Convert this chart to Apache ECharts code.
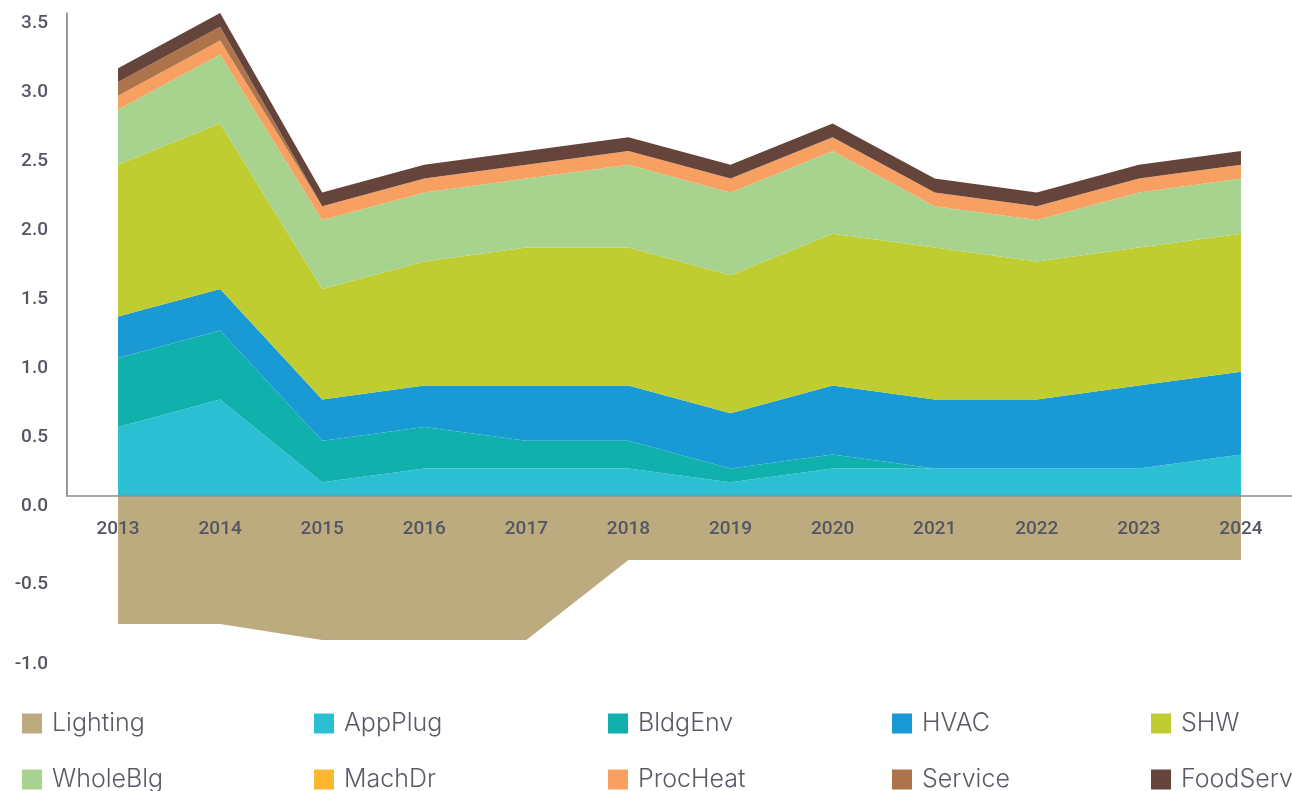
<!DOCTYPE html>
<html>
<head>
<meta charset="utf-8">
<title>Savings by end use</title>
<script src="https://cdn.jsdelivr.net/npm/echarts@6/dist/echarts.min.js"></script>
<style>
  html, body { margin: 0; padding: 0; background: #fff; }
  #chart { width: 1292px; height: 791px; }
</style>
</head>
<body>
<div id="chart"></div>
<script>
// x categories
var years = ['2013', '2014', '2015', '2016', '2017', '2018', '2019', '2020', '2021', '2022', '2023', '2024'];

// negative part (drawn in its own lower grid)
var lighting = [-0.75, -0.75, -0.85, -0.85, -0.85, -0.35, -0.35, -0.35, -0.35, -0.35, -0.35, -0.35];

// stacked positive parts, bottom to top
var appPlug  = [0.5, 0.7, 0.1, 0.2, 0.2, 0.2, 0.1, 0.2, 0.2, 0.2, 0.2, 0.3];
var bldgEnv  = [0.5, 0.5, 0.3, 0.3, 0.2, 0.2, 0.1, 0.1, 0, 0, 0, 0];
var hvac     = [0.3, 0.3, 0.3, 0.3, 0.4, 0.4, 0.4, 0.5, 0.5, 0.5, 0.6, 0.6];
var shw      = [1.1, 1.2, 0.8, 0.9, 1.0, 1.0, 1.0, 1.1, 1.1, 1.0, 1.0, 1.0];
var wholeBlg = [0.4, 0.5, 0.5, 0.5, 0.5, 0.6, 0.6, 0.6, 0.3, 0.3, 0.4, 0.4];
var machDr   = [0, 0, 0, 0, 0, 0, 0, 0, 0, 0, 0, 0];
var procHeat = [0.1, 0.1, 0.1, 0.1, 0.1, 0.1, 0.1, 0.1, 0.1, 0.1, 0.1, 0.1];
var service  = [0.1, 0.1, 0, 0, 0, 0, 0, 0, 0, 0, 0, 0];
var foodServ = [0.1, 0.1, 0.1, 0.1, 0.1, 0.1, 0.1, 0.1, 0.1, 0.1, 0.1, 0.1];

// y tick labels
var posTicks = { min: 0, max: 3.5, step: 0.5 };
var negTicks = { min: -1.0, step: 0.5 };

var colors = {
  Lighting: '#bdab80',
  AppPlug: '#2bbfd3',
  BldgEnv: '#10b0ad',
  HVAC: '#199ad5',
  SHW: '#c0cd30',
  WholeBlg: '#a8d38e',
  MachDr: '#fbb82e',
  ProcHeat: '#f7a061',
  Service: '#ad744b',
  FoodServ: '#65443b'
};

var axisFont = 'Roboto, sans-serif';
var labelColor = '#545662';

function stackArea(name, data) {
  return {
    name: name,
    type: 'line',
    stack: 'pos',
    xAxisIndex: 0,
    yAxisIndex: 0,
    data: data,
    symbol: 'none',
    lineStyle: { width: 0 },
    itemStyle: { color: colors[name] },
    areaStyle: { color: colors[name], opacity: 1 }
  };
}

// one legend per item so the two rows line up in columns
function legendItem(left, top, name) {
  return {
    left: left,
    top: top,
    padding: 0,
    itemWidth: 20,
    itemHeight: 20,
    icon: 'rect',
    selectedMode: false,
    data: [name],
    textStyle: {
      color: '#5a5b67',
      fontSize: 25,
      fontWeight: 300,
      fontFamily: 'Inter, "Noto Sans", sans-serif',
      padding: [0, 0, 0, 5]
    }
  };
}

var chart = echarts.init(document.getElementById('chart'));

var option = {
  animation: false,
  legend: [
    legendItem(22, 711, 'Lighting'),
    legendItem(314, 711, 'AppPlug'),
    legendItem(608, 711, 'BldgEnv'),
    legendItem(892, 711, 'HVAC'),
    legendItem(1151, 711, 'SHW'),
    legendItem(22, 767, 'WholeBlg'),
    legendItem(314, 767, 'MachDr'),
    legendItem(608, 767, 'ProcHeat'),
    legendItem(892, 767, 'Service'),
    legendItem(1151, 767, 'FoodServ')
  ],
  grid: [
    // positive part
    { left: 67, top: 13, width: 1234, height: 483 },
    // negative part, its zero sits a bit below the axis line
    { left: 67, top: 496, width: 1234, height: 168 }
  ],
  xAxis: [
    {
      gridIndex: 0,
      type: 'category',
      boundaryGap: true,
      data: years,
      z: 10,
      axisTick: { show: false },
      axisLine: { lineStyle: { color: '#8e8e94', width: 1.5 } },
      axisLabel: {
        margin: 24,
        color: labelColor,
        fontSize: 19,
        fontWeight: 500,
        fontFamily: axisFont
      }
    },
    {
      gridIndex: 1,
      type: 'category',
      boundaryGap: true,
      data: years,
      show: false
    }
  ],
  yAxis: [
    {
      gridIndex: 0,
      type: 'value',
      min: posTicks.min,
      max: posTicks.max,
      interval: posTicks.step,
      splitLine: { show: false },
      axisTick: { show: false },
      axisLine: { show: true, lineStyle: { color: '#77777f', width: 1.5 } },
      axisLabel: {
        margin: 19,
        verticalAlign: 'top',
        lineHeight: 20,
        color: labelColor,
        fontSize: 19,
        fontWeight: 500,
        fontFamily: axisFont,
        formatter: function (v) { return v.toFixed(1); }
      }
    },
    {
      gridIndex: 1,
      type: 'value',
      min: negTicks.min,
      max: 0.05,
      interval: negTicks.step,
      splitLine: { show: false },
      axisTick: { show: false },
      axisLine: { show: false },
      axisLabel: {
        margin: 19,
        showMaxLabel: false,
        color: labelColor,
        fontSize: 19,
        fontWeight: 500,
        fontFamily: axisFont,
        formatter: function (v) { return v < 0 ? v.toFixed(1) : ''; }
      }
    }
  ],
  series: [
    {
      name: 'Lighting',
      type: 'line',
      xAxisIndex: 1,
      yAxisIndex: 1,
      data: lighting,
      symbol: 'none',
      lineStyle: { width: 0 },
      itemStyle: { color: colors.Lighting },
      areaStyle: { color: colors.Lighting, opacity: 1, origin: 'end' }
    },
    stackArea('AppPlug', appPlug),
    stackArea('BldgEnv', bldgEnv),
    stackArea('HVAC', hvac),
    stackArea('SHW', shw),
    stackArea('WholeBlg', wholeBlg),
    stackArea('MachDr', machDr),
    stackArea('ProcHeat', procHeat),
    stackArea('Service', service),
    stackArea('FoodServ', foodServ)
  ]
};

chart.setOption(option);
</script>
</body>
</html>
